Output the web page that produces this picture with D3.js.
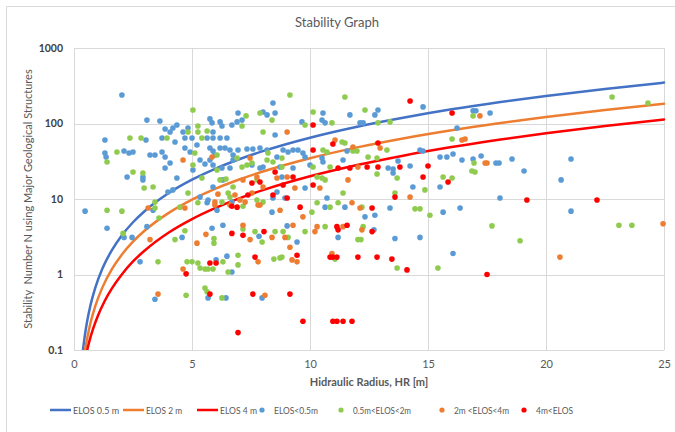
<!DOCTYPE html>
<html><head><meta charset="utf-8">
<script src="https://cdn.jsdelivr.net/npm/d3@7"></script>
<style>
html,body{margin:0;padding:0;background:#fff;}
svg{display:block;font-family:Lato,"Open Sans",sans-serif;}
</style></head><body>
<svg id="chart" width="675" height="432"></svg>
<script>
const chartTitle = "Stability Graph";
const xTitle = "Hidraulic Radius, HR [m]";
const yTitle = "Stability  Number N using Major Geological Structures";
const hrTicks = [0, 5, 10, 15, 20, 25];
const nTicks = [0.1, 1, 10, 100, 1000];
const nTickLabels = ["0.1", "1", "10", "100", "1000"];
const curveNames = ["ELOS 0.5 m", "ELOS 2 m", "ELOS 4 m"];
const scatterNames = ["ELOS<0.5m", "0.5m<ELOS<2m", "2m <ELOS<4m", "4m<ELOS"];

const elos05 = [[0.38,0.1],[0.45,0.148],[0.55,0.234],[0.7,0.395],[0.9,0.666],[1.2,1.19],[1.6,2.09],[2,3.22],[2.5,4.92],[3,6.94],[4,11.9],[5,18],[6,25.3],[7,33.6],[8,43],[10,64.9],[12,90.7],[14,120],[16,154],[18,191],[20,231],[22.5,287],[25,348]];
const elos2 = [[0.47,0.1],[0.55,0.138],[0.7,0.23],[0.9,0.38],[1.2,0.67],[1.6,1.17],[2,1.79],[2.5,2.72],[3,3.82],[4,6.5],[5,9.8],[6,13.7],[7,18.1],[8,23.1],[10,34.7],[12,48.3],[14,63.9],[16,81.4],[18,100.6],[20,122],[22.5,151],[25,182]];
const elos4 = [[0.56,0.1],[0.65,0.13],[0.8,0.187],[1,0.278],[1.3,0.446],[1.6,0.65],[2,0.98],[2.5,1.49],[3,2.08],[4,3.57],[5,5.42],[6,7.63],[7,10.2],[8,13.1],[10,20],[12,28.2],[14,37.8],[16,48.7],[18,60.8],[20,74.3],[22.5,92.9],[25,113]];

const ptsLt05 = [[2.03,238],[1.31,60.5],[1.31,40.6],[1.36,36],[2.12,43.2],[2.33,40.6],[2.5,41.9],[2.25,19.6],[0.47,6.9],
[3.09,111],[3.64,108],[5.76,115],[5.85,102],[6.19,105],[6.27,92.7],[6.69,95.5],[6.95,138],[6.91,105],[7.12,111],[8.01,142],[8.43,187],[8.52,138],
[3.86,84.5],[4.07,77],[4.19,87],[3.73,64.3],[4.28,57],[4.62,77],[4.83,87],[5.0,64.3],[5.89,77],[5.89,64.3],[6.19,64.3],[6.48,64.3],[3.05,60.5],
[3.22,38.3],[3.43,38.3],[3.86,36],[3.86,25.7],[5.04,24.2],[4.7,47.4],[4.92,41.9],[5.21,52],[5.76,47.4],[5.89,43.2],[6.19,47.4],[5.34,32.9],[5.55,29.1],
[6.4,47.4],[6.61,44.6],[6.74,38.3],[6.95,44.6],[7.33,45.9],[7.58,45.9],[7.88,47.4],[8.18,44.6],[8.01,26.5],[4.36,19],[2.92,19.6],[2.92,17.9],
[8.6,12.4],[5.34,10.6],[5.68,9.7],[3.98,12.4],[4.19,13.2],[5.89,14.4],[6.31,17.9],[6.69,9.1],[5.64,8.9],[8.43,10.3],[8.6,36],[8.73,26.5],[8.52,70.4],[8.18,130],
[4.36,95.5],[4.7,64.3],[5.64,64.3],[3.73,41.9],[4.07,30],[5.76,32.9],[5.97,38.3],[5.89,28.2],[6.27,25.7],[6.61,25.7],[7.54,28.2],[7.88,25.7],[6.74,32.9],
[1.4,4.1],[2.12,3.1],[2.46,3.1],[3.09,4.3],[2.8,1.47],[3.43,0.47],[4.58,3.1],[5.85,4.1],[6.31,4.5],[6.02,1.56],[6.69,1.08],[6.48,1.75],[7.84,3.2],[7.97,0.49],[5.68,0.49],[6.44,0.49],[8.39,6.7],[6.06,7.1],[3.35,7.1],
[11.69,130],[10.55,138],[12.75,130],[12.88,151],[14.79,166],[9.66,105],[10.51,111],[10.64,102],[12.12,102],[12.25,102],[16.23,87],
[8.86,44.6],[9.07,41.9],[9.28,44.6],[9.49,44.6],[9.7,40.6],[9.79,36],[11.57,43.2],[14.66,44.6],[14.79,43.2],[15.51,36],[15.8,36],[16.06,39.4],[16.44,32.9],
[10.51,34.9],[10.55,30.9],[11.4,32.9],[13.73,31.9],[13.31,25.7],[13.52,25],[14.24,27.4],[13.52,22.1],[15.51,14.4],[14.36,14.4],[10.0,28.2],[9.28,25.7],[8.81,19.6],[9.79,14],[10.72,10.3],[8.94,10.3],
[10.64,7.8],[11.48,7.8],[12.33,5.8],[12.75,6.1],[9.03,4.4],[9.45,2.7],[11.19,3.1],[12.71,3.9],[13.6,3.0],[14.66,3.1],[15.64,6.7],[16.36,7.6],[16.06,1.9],[13.39,7.6],
[16.91,147],[17.03,147],[17.63,138],[16.91,33.9],[17.25,37.1],[17.88,30],[18.01,30],[18.56,33.9],[19.07,23.5],[20.64,17.9],[21.06,33.9],[18.05,10.3],[21.06,6.9]];

const pts05to2 = [[1.4,30.9],[1.82,41.9],[2.37,64.3],[2.5,22.8],[1.4,7.1],[2.03,6.9],
[5.04,151],[7.29,126],[7.12,92.7],[8.01,77],[8.39,111],[5.25,92.7],[3.94,64.3],[5.25,77],[5.42,64.3],[5.64,79.5],[2.84,64.3],[5.04,28.2],[6.06,38.3],[8.22,40.6],[8.18,32.9],[7.33,28.2],[7.54,30],[2.92,22.1],[3.35,14.4],[2.97,14],[7.12,26.5],[6.53,12],[6.61,10.6],[6.27,9.1],[3.43,9.1],[5.42,19],[6.19,17.9],[6.44,18.4],[6.74,14.4],[5.25,8.9],[7.75,9.7],[8.01,9.1],[7.75,17.9],[8.43,30.9],[7.88,138],[4.83,77],[5.12,40.6],[6.91,34.9],[6.06,24.2],[4.83,12],
[2.08,3.5],[3.56,1.47],[3.6,5.6],[4.28,2.9],[4.7,3.8],[4.75,0.53],[4.79,1.47],[5.0,1.47],[5.25,1.42],[5.34,1.22],[5.55,1.18],[5.68,1.18],[5.89,1.18],[5.93,3.0],[5.93,2.6],[6.53,1.08],[6.31,1.47],[6.95,1.8],[6.95,1.34],[7.16,4.0],[7.67,3.7],[7.97,2.7],[8.52,3.7],[8.47,1.6],[8.73,1.66],[5.55,0.66],[5.64,0.59],[6.27,0.49],[7.16,8.0],[4.49,7.8],[3.43,7.6],
[9.15,238],[10.13,142],[11.48,224],[12.33,151],[9.79,95.5],[10.93,102],[12.88,102],[13.39,105],[16.02,62.4],[8.81,34.9],[10.55,44.6],[10.72,41.9],[11.36,57],[11.48,55.2],[11.82,43.2],[11.99,43.2],[13.26,44.6],[12.46,36],[12.84,34.9],[10.85,26.5],[12.84,21.4],[13.69,19],[15.64,19.6],[16.02,19],[14.87,13.2],[10.13,26.5],[8.81,26.5],[10.3,19.6],[10.51,19],[10.64,17.9],[11.4,12],[13.6,12],
[10.3,8.9],[10.85,7.8],[11.19,8.9],[12.2,7.8],[10.08,6.7],[8.86,3.7],[9.07,3.1],[9.79,3.7],[10.64,4.3],[12.25,4.3],[12.03,2.9],[12.16,2.9],[15.08,6.1],[11.06,1.6],[13.69,1.22],[15.42,1.22],[8.81,1.7],[14.45,7.4],[14.66,7.4],
[22.8,224],[24.32,187],[16.91,126],[16.95,30],[16.86,23.5],[16.99,22.8],[17.71,4.4],[18.9,2.8],[23.09,4.5],[23.64,4.5]];

const pts2to4 = [[4.62,32.9],[5.85,36],[7.46,34.9],[7.75,19.6],[8.6,19],[6.1,11.6],[6.82,11.3],[5.97,9.1],[7.25,9.1],[7.16,17.9],[8.01,14.4],[7.03,9.7],[7.8,8.3],[9.03,19.6],[7.54,12],[9.03,77],
[3.56,0.55],[3.22,2.9],[4.62,1.18],[5.21,2.6],[5.59,3.4],[7.16,4.5],[7.46,2.9],[8.39,3.1],[8.09,0.53],[7.8,1.47],[6.61,8.3],[7.88,8.3],[8.73,7.1],[5.97,8.3],[4.7,7.6],[3.14,7.6],
[11.06,60.5],[11.82,48.9],[12.97,47.4],[16.44,60.5],[16.57,62.4],[12.03,26.5],[9.36,14],[10.42,14],[11.61,17.9],[14.24,10.6],
[11.78,8.9],[12.12,7.6],[9.7,5.8],[9.28,4.5],[8.94,3.1],[10.3,4.3],[10.21,3.7],[11.4,4.3],[12.2,3.9],[9.15,2.3],[9.24,1.56],[9.45,1.47],[10.93,1.9],
[17.2,126],[17.42,30],[17.5,30],[24.96,4.7],[20.59,1.7]];

const ptsGt4 = [[7.54,16.3],[7.88,16.8],[8.52,22.8],[7.37,11.3],[8.43,11.3],[8.86,15.3],
[4.75,1.02],[5.76,1.42],[6.02,1.42],[6.69,3.5],[7.16,3.3],[8.05,3.7],[7.58,0.55],[7.67,1.7],[6.95,0.17],[5.76,0.55],[6.69,8.0],[6.91,7.8],
[14.24,199],[16.02,138],[10.13,95.5],[10.13,44.6],[10.97,53.6],[12.88,55.2],[11.69,25.7],[12.42,26.5],[12.88,26.5],[13.81,26.5],[15.0,27.4],[11.19,25.7],[14.79,19.6],[15.85,16.8],[9.28,19.6],[10.13,15.3],[9.03,10.3],[13.6,10.6],
[12.63,7.6],[9.58,7.8],[11.14,4.3],[11.57,4.5],[11.19,3.9],[12.63,3.7],[9.45,1.8],[10.85,1.7],[10.97,1.7],[11.14,1.7],[12.03,1.7],[12.84,1.7],[13.47,1.6],[14.11,1.15],[9.15,0.55],[9.7,0.24],[10.97,0.24],[11.14,0.24],[11.4,0.24],[11.78,0.24],
[19.19,9.7],[22.16,9.7],[17.5,1.0]];

// ---- layout / style ----
const W = 675, H = 432;
const plot = {left: 74, right: 664, top: 48, bottom: 350};
const lineColors = ["#4472C4", "#ED7D31", "#FF0000"];
const dotColors = ["#5B9BD5", "#8FCB4F", "#ED7D31", "#FF0000"];
const textColor = "#595959";
const gridColor = "#d9d9d9";

const svg = d3.select("#chart");
svg.append("rect").attr("x", 0).attr("y", 0).attr("width", W).attr("height", H).attr("fill", "#fff");
svg.append("path").attr("d", `M6.5,${H} V6.5 H${W}`).attr("fill", "none").attr("stroke", gridColor).attr("stroke-width", 1);

const x = d3.scaleLinear().domain([0, 25]).range([plot.left, plot.right]);
const y = d3.scaleLog().domain([0.1, 1000]).range([plot.bottom, plot.top]);

// grid + axes
const xAxis = d3.axisBottom(x).tickValues(hrTicks).tickFormat(d3.format("d"))
  .tickSize(-(plot.bottom - plot.top)).tickPadding(10);
const gx = svg.append("g").attr("transform", `translate(0,${plot.bottom})`).call(xAxis);
gx.select(".domain").remove();
gx.selectAll("line").attr("stroke", gridColor).attr("shape-rendering", "crispEdges");
gx.selectAll("text").attr("fill", textColor).style("font-size", "11px").style("font-family", "Lato");

const yAxis = d3.axisLeft(y).tickValues(nTicks).tickFormat((d, i) => nTickLabels[i])
  .tickSize(-(plot.right - plot.left)).tickPadding(11);
const gy = svg.append("g").attr("transform", `translate(${plot.left},0)`).call(yAxis);
gy.select(".domain").remove();
gy.selectAll("line").attr("stroke", gridColor).attr("shape-rendering", "crispEdges");
gy.selectAll("text").attr("fill", "#404040").style("font-size", "10.5px").style("font-weight", "bold").style("font-family", "Lato");

// titles
svg.append("text").attr("x", 337).attr("y", 27).attr("text-anchor", "middle")
  .attr("fill", textColor).style("font-size", "13px").text(chartTitle);
svg.append("text").attr("x", (plot.left + plot.right) / 2).attr("y", 386).attr("text-anchor", "middle")
  .attr("fill", textColor).style("font-size", "11px").style("font-weight", "bold").text(xTitle);
svg.append("text").attr("transform", `translate(32,${(plot.top + plot.bottom) / 2}) rotate(-90)`)
  .attr("text-anchor", "middle").attr("fill", textColor).style("font-size", "11px")
  .style("white-space", "pre").attr("xml:space", "preserve").text(yTitle);

// clip
svg.append("clipPath").attr("id", "clip").append("rect")
  .attr("x", plot.left).attr("y", plot.top - 2).attr("width", plot.right - plot.left + 2).attr("height", plot.bottom - plot.top + 2);

const line = d3.line().x(d => x(d[0])).y(d => y(d[1])).curve(d3.curveMonotoneX);
const gCurves = svg.append("g").attr("clip-path", "url(#clip)");
[elos05, elos2, elos4].forEach((c, i) => {
  gCurves.append("path").datum(c).attr("d", line).attr("fill", "none")
    .attr("stroke", lineColors[i]).attr("stroke-width", 2.5).attr("stroke-linecap", "round");
});

const gDots = svg.append("g");
[ptsLt05, pts05to2, pts2to4, ptsGt4].forEach((s, i) => {
  gDots.append("g").selectAll("circle").data(s).join("circle")
    .attr("cx", d => x(d[0])).attr("cy", d => y(d[1])).attr("r", 2.8).attr("fill", dotColors[i]);
});

// legend (layout constants)
const legendX = [50, 123, 197, 251, 330, 431, 513];
const legendTextW = [46, 36, 37, 44, 58, 55, 37];
const legendY = 410;
const lg = svg.append("g").style("font-size", "10px").attr("fill", textColor);
function fitText(t, w) {
  const len = t.node().getComputedTextLength();
  if (len > w) t.attr("textLength", w).attr("lengthAdjust", "spacingAndGlyphs");
}
curveNames.forEach((name, i) => {
  const g = lg.append("g").attr("transform", `translate(${legendX[i]},${legendY})`);
  g.append("line").attr("x1", 0).attr("x2", 21).attr("y1", 0).attr("y2", 0)
    .attr("stroke", lineColors[i]).attr("stroke-width", 2.5);
  const t = g.append("text").attr("x", 23).attr("dy", "0.35em").text(name);
  fitText(t, legendTextW[i]);
});
scatterNames.forEach((name, i) => {
  const g = lg.append("g").attr("transform", `translate(${legendX[i + 3]},${legendY})`);
  g.append("circle").attr("cx", 11).attr("cy", 0).attr("r", 2.6).attr("fill", dotColors[i]);
  const t = g.append("text").attr("x", 23).attr("dy", "0.35em").text(name);
  fitText(t, legendTextW[i + 3]);
});
</script>
</body></html>
